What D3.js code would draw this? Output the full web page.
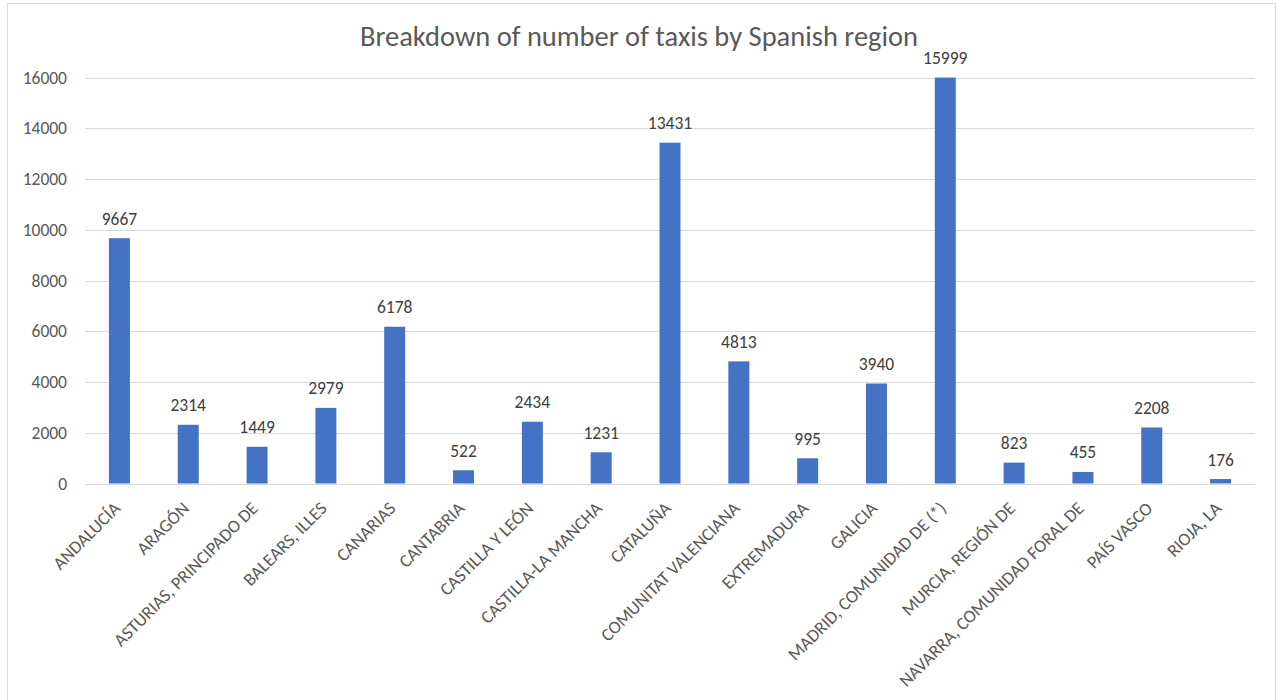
<!DOCTYPE html>
<html>
<head>
<meta charset="utf-8">
<script src="https://cdn.jsdelivr.net/npm/d3@7"></script>
<style>
  html, body { margin: 0; padding: 0; background: #fff; }
  svg { display: block; }
</style>
</head>
<body>
<svg id="chart" width="1284" height="700"></svg>
<script>
// Number of taxis per Spanish region
const regions = [
  "ANDALUCÍA", "ARAGÓN", "ASTURIAS, PRINCIPADO DE", "BALEARS, ILLES", "CANARIAS",
  "CANTABRIA", "CASTILLA Y LEÓN", "CASTILLA-LA MANCHA", "CATALUÑA",
  "COMUNITAT VALENCIANA", "EXTREMADURA", "GALICIA", "MADRID, COMUNIDAD DE (*)",
  "MURCIA, REGIÓN DE", "NAVARRA, COMUNIDAD FORAL DE", "PAÍS VASCO", "RIOJA, LA"
];
const taxis = [9667, 2314, 1449, 2979, 6178, 522, 2434, 1231, 13431, 4813, 995, 3940, 15999, 823, 455, 2208, 176];
const yTicks = [0, 2000, 4000, 6000, 8000, 10000, 12000, 14000, 16000];
const title = "Breakdown of number of taxis by Spanish region";

const font = "Carlito, Calibri, 'Open Sans', sans-serif";
const svg = d3.select("#chart");

// chart frame
svg.append("rect")
  .attr("x", 7.5).attr("y", 3.5)
  .attr("width", 1268).attr("height", 720)
  .attr("fill", "#fff").attr("stroke", "#d9d9d9").attr("stroke-width", 1);

const plot = { left: 85, right: 1255, top: 77.5, bottom: 483.5 };

const x = d3.scaleBand()
  .domain(regions)
  .range([plot.left, plot.right])
  .paddingInner(0.695)
  .paddingOuter(0.3475);

const y = d3.scaleLinear()
  .domain([0, 16000])
  .range([plot.bottom, plot.top]);

// gridlines
svg.append("g")
  .selectAll("line")
  .data(yTicks)
  .join("line")
  .attr("x1", plot.left).attr("x2", plot.right)
  .attr("y1", d => Math.round(y(d)) + 0.5).attr("y2", d => Math.round(y(d)) + 0.5)
  .attr("stroke", "#d9d9d9").attr("stroke-width", 1);

// y axis labels
const yAxis = svg.append("g")
  .attr("transform", `translate(${plot.left - 18},0)`)
  .call(d3.axisLeft(y).tickValues(yTicks).tickSize(0).tickPadding(0).tickFormat(d3.format("d")));
yAxis.select(".domain").remove();
yAxis.selectAll("text")
  .attr("fill", "#595959")
  .style("font-family", font)
  .style("font-size", "17.5px");

// bars
svg.append("g")
  .selectAll("rect")
  .data(taxis)
  .join("rect")
  .attr("x", (d, i) => x(regions[i]))
  .attr("y", d => y(d))
  .attr("width", x.bandwidth())
  .attr("height", d => y(0) - y(d))
  .attr("fill", "#4472c4");

// value labels
svg.append("g")
  .selectAll("text")
  .data(taxis)
  .join("text")
  .attr("x", (d, i) => x(regions[i]) + x.bandwidth() / 2)
  .attr("y", d => y(d) - 13.5)
  .attr("text-anchor", "middle")
  .attr("fill", "#404040")
  .style("font-family", font)
  .style("font-size", "17.5px")
  .text(d => d);

// category labels, rotated
const xAxis = svg.append("g")
  .attr("transform", `translate(0,${plot.bottom})`)
  .call(d3.axisBottom(x).tickSize(0).tickPadding(0));
xAxis.select(".domain").remove();
xAxis.selectAll("text")
  .attr("fill", "#595959")
  .style("font-family", font)
  .style("font-size", "18px")
  .attr("text-anchor", "end")
  .attr("dy", null)
  .attr("y", 0)
  .attr("transform", "translate(2,26) rotate(-45)");

// title
svg.append("text")
  .attr("x", 639)
  .attr("y", 46)
  .attr("text-anchor", "middle")
  .attr("fill", "#595959")
  .style("font-family", font)
  .style("font-size", "28.5px")
  .text(title);
</script>
</body>
</html>
